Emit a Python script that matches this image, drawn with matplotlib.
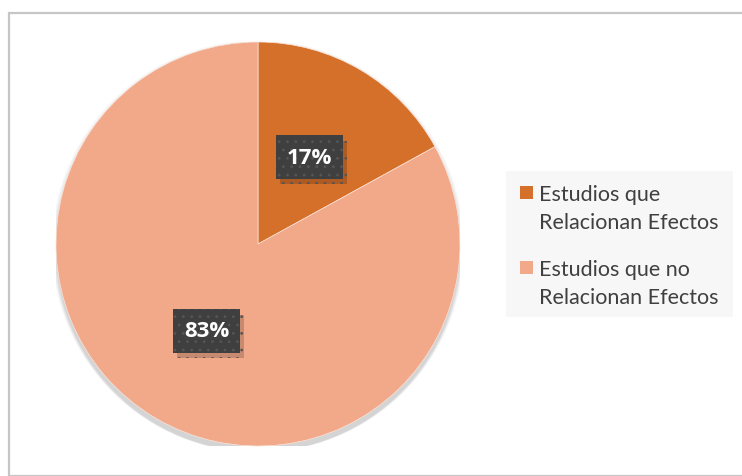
import matplotlib
matplotlib.use("Agg")
import matplotlib.pyplot as plt
from matplotlib.patches import Rectangle, Circle
import matplotlib.patheffects as pe

# Data
categories = ["Estudios que\nRelacionan Efectos", "Estudios que no\nRelacionan Efectos"]
shares = [17, 83]
colors = ["#D5702B", "#F2A98A"]

W, H = 742, 477
fig = plt.figure(figsize=(W / 100, H / 100), dpi=100)
fig.patch.set_facecolor("white")

# outer frame
fig.add_artist(Rectangle((8.5 / W, 0.5 / H), (W + 5) / W, (H - 14) / H,
                         transform=fig.transFigure, fill=False,
                         edgecolor="#C6C6C6", linewidth=1.6))

# pie axes: centre (258, 245) px, radius 202 px
cx, cy, r = 258, 245, 202
ax = fig.add_axes([(cx - r) / W, (H - cy - r) / H, 2 * r / W, 2 * r / H])

# soft shadow under the pie
for i, a in enumerate([0.03, 0.03, 0.035, 0.035, 0.04]):
    ax.add_patch(Circle((0, -0.012 - 0.004 * i), 1.0 + 0.005 * (4 - i),
                        facecolor="black", edgecolor="none", alpha=a, zorder=0))

plt.rcParams["hatch.linewidth"] = 0.8
wedges, texts, autotexts = ax.pie(
    shares, colors=colors, startangle=90, counterclock=False,
    radius=1.0, autopct=lambda p: f"{p:.0f}%", pctdistance=0.5,
    wedgeprops=dict(linewidth=0.5, edgecolor="#FBE3D8"),
    textprops=dict(color="white", fontsize=16, fontweight="bold",
                   family=["Open Sans", "DejaVu Sans"]))
for w in wedges:
    w.set_zorder(2)
ax.set_xlim(-1, 1)
ax.set_ylim(-1, 1)
ax.set_aspect("equal")
ax.axis("off")

for t in autotexts:
    t.set_zorder(5)
    t.set_bbox(dict(boxstyle="square,pad=0.5", facecolor="#3F3F3F",
                    edgecolor="#555555", linewidth=0, hatch=".."))
    t.get_bbox_patch().set_path_effects([
        pe.SimplePatchShadow(offset=(3, -4), shadow_rgbFace="black", alpha=0.18),
        pe.Normal()])

# legend panel
lx0, ly0, lx1, ly1 = 506, 172, 733, 318
fig.add_artist(Rectangle((lx0 / W, (H - ly1) / H), (lx1 - lx0) / W, (ly1 - ly0) / H,
                         transform=fig.transFigure, facecolor="#F7F7F7",
                         edgecolor="none", zorder=1))
row_tops = [193, 268]
for label, col, yt in zip(categories, colors, row_tops):
    sq = 13
    fig.add_artist(Rectangle((520 / W, (H - yt - sq / 2) / H), sq / W, sq / H,
                             transform=fig.transFigure, facecolor=col,
                             edgecolor="none", zorder=2))
    fig.text(539 / W, (H - yt + 8) / H, label, ha="left", va="top",
             fontsize=15.5, color="#404040", linespacing=1.5,
             family=["Lato", "DejaVu Sans"], zorder=3)

fig.savefig("out.png", dpi=100, facecolor="white")
